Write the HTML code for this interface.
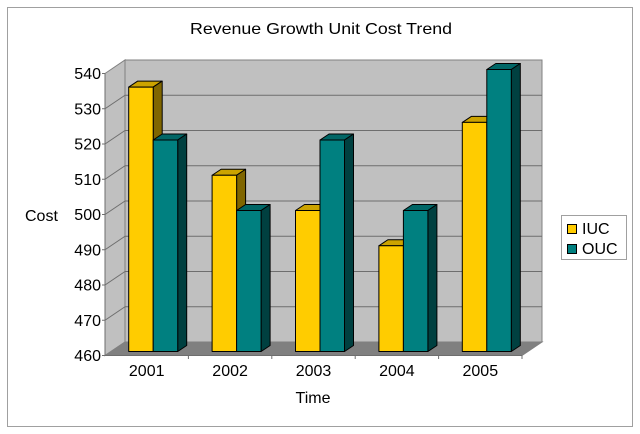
<!DOCTYPE html>
<html><head><meta charset="utf-8"><style>
html,body{margin:0;padding:0;background:#fff;}
svg{display:block;}
text{font-family:"Liberation Sans","Noto Sans CJK JP",sans-serif;fill:#000;}
</style></head><body>
<svg width="640" height="434" viewBox="0 0 640 434" xmlns="http://www.w3.org/2000/svg">
<rect x="0" y="0" width="640" height="434" fill="#fff"/>
<rect x="7.5" y="7.5" width="625" height="419" fill="#fff" stroke="#a0a0a0" stroke-width="1"/>
<text x="321" y="34" font-size="16" text-anchor="middle" textLength="262" lengthAdjust="spacingAndGlyphs">Revenue Growth Unit Cost Trend</text>

<!-- walls -->
<polygon points="125,60 542,60 542,342 125,342" fill="#c0c0c0" stroke="#808080" stroke-width="1"/>
<polygon points="105,73.5 125,60 125,342 105,355.5" fill="#c0c0c0" stroke="#808080" stroke-width="1"/>
<polygon points="105,355.5 522,355.5 542,342 125,342" fill="#808080" stroke="#808080" stroke-width="1"/>
<g stroke="#6e6e6e" stroke-width="1" fill="none">
<line x1="125" y1="95.25" x2="542" y2="95.25"/>
<line x1="125" y1="130.5" x2="542" y2="130.5"/>
<line x1="125" y1="165.75" x2="542" y2="165.75"/>
<line x1="125" y1="201" x2="542" y2="201"/>
<line x1="125" y1="236.25" x2="542" y2="236.25"/>
<line x1="125" y1="271.5" x2="542" y2="271.5"/>
<line x1="125" y1="306.75" x2="542" y2="306.75"/>
<line x1="105" y1="108.75" x2="125" y2="95.25"/>
<line x1="105" y1="144" x2="125" y2="130.5"/>
<line x1="105" y1="179.25" x2="125" y2="165.75"/>
<line x1="105" y1="214.5" x2="125" y2="201"/>
<line x1="105" y1="249.75" x2="125" y2="236.25"/>
<line x1="105" y1="285" x2="125" y2="271.5"/>
<line x1="105" y1="320.25" x2="125" y2="306.75"/>
<line x1="105" y1="73.5" x2="105" y2="355.5"/>
<line x1="105" y1="355.5" x2="522" y2="355.5"/>
<line x1="188.4" y1="355.5" x2="188.4" y2="359"/>
<line x1="271.8" y1="355.5" x2="271.8" y2="359"/>
<line x1="355.2" y1="355.5" x2="355.2" y2="359"/>
<line x1="438.6" y1="355.5" x2="438.6" y2="359"/>
<line x1="522" y1="355.5" x2="522" y2="359"/>
<line x1="102" y1="73.5" x2="105" y2="73.5"/>
<line x1="102" y1="108.75" x2="105" y2="108.75"/>
<line x1="102" y1="144" x2="105" y2="144"/>
<line x1="102" y1="179.25" x2="105" y2="179.25"/>
<line x1="102" y1="214.5" x2="105" y2="214.5"/>
<line x1="102" y1="249.75" x2="105" y2="249.75"/>
<line x1="102" y1="285" x2="105" y2="285"/>
<line x1="102" y1="320.25" x2="105" y2="320.25"/>
<line x1="102" y1="355.5" x2="105" y2="355.5"/>
</g>

<!-- bars -->
<g stroke="#000" stroke-width="1" stroke-linejoin="round">
<!-- 2001 IUC 535 -->
<polygon points="128.7,87.1 153.2,87.1 162.2,81.1 137.7,81.1" fill="#cca300"/>
<polygon points="153.2,87.1 162.2,81.1 162.2,345.5 153.2,351.5" fill="#806600"/>
<rect x="128.7" y="87.1" width="24.5" height="264.4" fill="#ffcc00"/>
<!-- 2001 OUC 520 -->
<polygon points="153.2,140 177.7,140 186.7,134 162.2,134" fill="#006666"/>
<polygon points="177.7,140 186.7,134 186.7,345.5 177.7,351.5" fill="#004040"/>
<rect x="153.2" y="140" width="24.5" height="211.5" fill="#008080"/>

<!-- 2002 IUC 510 -->
<polygon points="212.1,175.25 236.6,175.25 245.6,169.25 221.1,169.25" fill="#cca300"/>
<polygon points="236.6,175.25 245.6,169.25 245.6,345.5 236.6,351.5" fill="#806600"/>
<rect x="212.1" y="175.25" width="24.5" height="176.25" fill="#ffcc00"/>
<!-- 2002 OUC 500 -->
<polygon points="236.6,210.5 261.1,210.5 270.1,204.5 245.6,204.5" fill="#006666"/>
<polygon points="261.1,210.5 270.1,204.5 270.1,345.5 261.1,351.5" fill="#004040"/>
<rect x="236.6" y="210.5" width="24.5" height="141" fill="#008080"/>

<!-- 2003 IUC 500 -->
<polygon points="295.5,210.5 320,210.5 329,204.5 304.5,204.5" fill="#cca300"/>
<polygon points="320,210.5 329,204.5 329,345.5 320,351.5" fill="#806600"/>
<rect x="295.5" y="210.5" width="24.5" height="141" fill="#ffcc00"/>
<!-- 2003 OUC 520 -->
<polygon points="320,140 344.5,140 353.5,134 329,134" fill="#006666"/>
<polygon points="344.5,140 353.5,134 353.5,345.5 344.5,351.5" fill="#004040"/>
<rect x="320" y="140" width="24.5" height="211.5" fill="#008080"/>

<!-- 2004 IUC 490 -->
<polygon points="378.9,245.75 403.4,245.75 412.4,239.75 387.9,239.75" fill="#cca300"/>
<polygon points="403.4,245.75 412.4,239.75 412.4,345.5 403.4,351.5" fill="#806600"/>
<rect x="378.9" y="245.75" width="24.5" height="105.75" fill="#ffcc00"/>
<!-- 2004 OUC 500 -->
<polygon points="403.4,210.5 427.9,210.5 436.9,204.5 412.4,204.5" fill="#006666"/>
<polygon points="427.9,210.5 436.9,204.5 436.9,345.5 427.9,351.5" fill="#004040"/>
<rect x="403.4" y="210.5" width="24.5" height="141" fill="#008080"/>

<!-- 2005 IUC 525 -->
<polygon points="462.3,122.4 486.8,122.4 495.8,116.4 471.3,116.4" fill="#cca300"/>
<polygon points="486.8,122.4 495.8,116.4 495.8,345.5 486.8,351.5" fill="#806600"/>
<rect x="462.3" y="122.4" width="24.5" height="229.1" fill="#ffcc00"/>
<!-- 2005 OUC 540 -->
<polygon points="486.8,69.5 511.3,69.5 520.3,63.5 495.8,63.5" fill="#006666"/>
<polygon points="511.3,69.5 520.3,63.5 520.3,345.5 511.3,351.5" fill="#004040"/>
<rect x="486.8" y="69.5" width="24.5" height="282" fill="#008080"/>
</g>

<!-- y labels -->
<g font-size="16" text-anchor="end">
<text x="101" y="79">540</text>
<text x="101" y="114.25">530</text>
<text x="101" y="149.5">520</text>
<text x="101" y="184.75">510</text>
<text x="101" y="220">500</text>
<text x="101" y="255.25">490</text>
<text x="101" y="290.5">480</text>
<text x="101" y="325.75">470</text>
<text x="101" y="361">460</text>
</g>
<text x="25" y="221" font-size="16">Cost</text>

<!-- x labels -->
<g font-size="16" text-anchor="middle">
<text x="146.7" y="376">2001</text>
<text x="230.1" y="376">2002</text>
<text x="313.5" y="376">2003</text>
<text x="396.9" y="376">2004</text>
<text x="480.3" y="376">2005</text>
</g>
<text x="313" y="403" font-size="16" text-anchor="middle">Time</text>

<!-- legend -->
<rect x="561.5" y="215.5" width="65" height="44" fill="#fff" stroke="#a0a0a0" stroke-width="1"/>
<rect x="567.5" y="224.5" width="9" height="9" fill="#ffcc00" stroke="#000" stroke-width="1"/>
<rect x="567.5" y="244.5" width="9" height="9" fill="#008080" stroke="#000" stroke-width="1"/>
<text x="582" y="234" font-size="16">IUC</text>
<text x="582" y="254" font-size="16">OUC</text>
</svg>
</body></html>
